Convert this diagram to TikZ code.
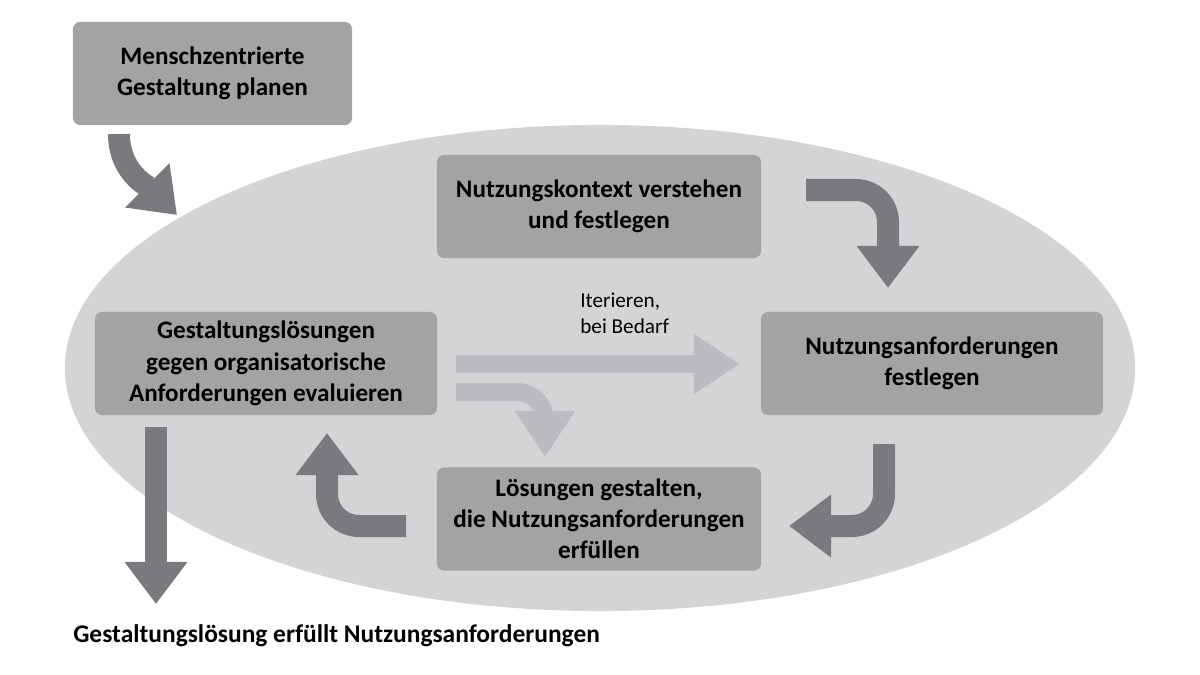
\documentclass[tikz,border=0pt]{standalone}
\usepackage{fontspec}
\setmainfont{Carlito}
\usepackage{xcolor}
\usetikzlibrary{shapes.geometric,arrows.meta,positioning}

\definecolor{ellgray}{HTML}{D3D4D6}
\definecolor{boxgray}{HTML}{A2A3A5}
\definecolor{darkarr}{HTML}{797A7D}
\definecolor{lightarr}{HTML}{BBBCBF}

\begin{document}
\begin{tikzpicture}[
  x=0.025cm, y=-0.025cm,
  stepbox/.style={fill=boxgray, rounded corners=5pt, minimum height=2.575cm,
                  align=center, inner sep=0pt,
                  font=\fontsize{17.9}{22.2}\selectfont\bfseries},
  darr/.style={draw=darkarr, line width=0.55cm,
               -{Triangle[width=1.5cm, length=1.05cm]}},
  larr/.style={draw=lightarr, line width=0.45cm,
               -{Triangle[width=1.42cm, length=1.15cm]}}
]

\useasboundingbox (0,0) rectangle (1200,675);

% big cycle background
\node[ellipse, fill=ellgray, minimum width=26.75cm, minimum height=12.15cm,
      inner sep=0pt] (cycle) at (600,368) {};

% process steps
\node[stepbox, minimum width=6.975cm] (plan) at (212.5,73.5)
  {Menschzentrierte\\Gestaltung planen};
\node[stepbox, minimum width=8.1cm] (context) at (599,206.5)
  {Nutzungskontext verstehen\\und festlegen};
\node[stepbox, minimum width=8.55cm] (require) at (932,363.5)
  {Nutzungsanforderungen\\festlegen};
\node[stepbox, minimum width=8.55cm] (evaluate) at (266,363.5)
  {Gestaltungslösungen\\gegen organisatorische\\Anforderungen evaluieren};
\node[stepbox, minimum width=8.1cm] (design) at (599,519)
  {Lösungen gestalten,\\die Nutzungsanforderungen\\erfüllen};

\node[font=\fontsize{18.1}{22}\selectfont\bfseries, anchor=west,
      inner sep=0pt] (result)
  at (73,636) {Gestaltungslösung erfüllt Nutzungsanforderungen};

\node[font=\fontsize{15.1}{18.5}\selectfont, align=left, anchor=west,
      inner sep=0pt] (iterate) at (580,313)
  {Iterieren,\\bei Bedarf};

% arrow end points
\coordinate (planout)    at (119,134);
\coordinate (cyclein)    at (177,215);
\coordinate (contextout) at (806,190);
\coordinate (requirein)  at (888,288);
\coordinate (requireout) at (884,444);
\coordinate (designin)   at (789,526);
\coordinate (designout)  at (406,526);
\coordinate (evalin)     at (327,433);
\coordinate (evalout)    at (156,427);
\coordinate (resultin)   at (156,604);
\coordinate (iterout)    at (456,364);
\coordinate (iterin)     at (740,364);
\coordinate (loopout)    at (456,392);
\coordinate (loopin)     at (545,457);

% main cycle arrows
\draw[darr] (planout) to[out=-90, in=135] (cyclein);
\draw[darr, rounded corners=0.8cm] (contextout) -| (requirein);
\draw[darr, rounded corners=0.8cm] (requireout) |- (designin);
\draw[darr, rounded corners=0.8cm] (designout) -| (evalin);
\draw[darr] (evalout) -- (resultin);

% iteration arrows
\draw[larr] (iterout) -- (iterin);
\draw[larr, rounded corners=0.7cm] (loopout) -| (loopin);

\end{tikzpicture}
\end{document}
